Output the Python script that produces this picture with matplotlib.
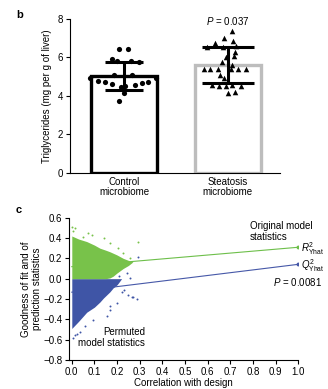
import matplotlib
matplotlib.use('Agg')
import matplotlib.pyplot as plt

plt.rcParams['font.family'] = ['Liberation Sans', 'DejaVu Sans']
plt.rcParams['mathtext.fontset'] = 'custom'
plt.rcParams['mathtext.rm'] = 'Liberation Sans'
plt.rcParams['mathtext.it'] = 'Liberation Sans:italic'
FS = 7

# ---- panel b data ----
groups = ['Control\nmicrobiome', 'Steatosis\nmicrobiome']
bar_means = [5.06, 5.6]
bar_sd = [0.73, 0.93]
cap_half = [13.5, 19]  # points
bar_edge = ['black', '#bdbdbd']
ctrl_vals = [6.46, 6.46, 5.92, 5.8, 5.8, 5.78, 5.1, 5.1, 4.95, 4.95,
             4.78, 4.71, 4.61, 4.57, 4.66, 4.74, 4.48, 4.53, 4.17, 3.74]
ctrl_dx = [-0.05, 0.04, -0.12, -0.07, 0.07, 0.14, -0.1, 0.08, -0.33, 0.31,
           -0.25, -0.18, -0.12, 0.11, 0.17, 0.23, -0.03, 0.01, 0.0, -0.05]
stea_vals = [7.38, 7.0, 6.75, 6.85, 6.55, 6.55, 6.6, 6.3, 6.0, 6.1, 5.75, 5.6,
             5.42, 5.42, 5.42, 5.42, 5.42, 5.42, 5.08, 4.92,
             4.55, 4.5, 4.52, 4.55, 4.5, 4.15, 4.2]
stea_dx = [0.04, -0.04, -0.12, 0.05, -0.2, -0.05, 0.08, 0.07, -0.02, 0.06, -0.06, 0.04,
           -0.23, -0.17, -0.1, 0.03, 0.1, 0.17, -0.08, -0.04,
           -0.15, -0.09, -0.02, 0.04, 0.13, 0.0, 0.07]

# ---- panel c data ----
green_x = [0, 0.03, 0.066, 0.1, 0.124, 0.15, 0.168, 0.183, 0.198, 0.227, 0.25, 0.27]
green_hi = [0.42, 0.39, 0.365, 0.33, 0.30, 0.28, 0.265, 0.25, 0.235, 0.20, 0.18, 0.165]
green_lo = [0, 0, 0, 0, 0, 0, 0.007, 0.025, 0.053, 0.1, 0.13, 0.165]
blue_x = [0, 0.03, 0.066, 0.1, 0.124, 0.14, 0.168, 0.183, 0.2, 0.22]
blue_hi = [0, 0, 0, 0, 0, 0, 0, 0, 0, 0]
blue_lo = [-0.49, -0.42, -0.33, -0.28, -0.23, -0.19, -0.13, -0.09, -0.06, 0.0]
green_sx = [0.0, 0.015, 0.073, 0.088, 0.14, 0.169, 0.206, 0.228, 0.257, 0.294, 0.005, 0.05]
green_sy = [0.51, 0.5, 0.45, 0.43, 0.40, 0.35, 0.30, 0.25, 0.2, 0.364, 0.47, 0.41]
blue_sx = [0.294, 0.243, 0.257, 0.25, 0.27, 0.29, 0.23, 0.2, 0.17, 0.265, 0.22,
           0.169, 0.154, 0.095, 0.059, 0.022, 0.035, 0.016, 0.005, 0.21, 0.19]
blue_sy = [0.21, 0.053, 0.004, -0.16, -0.18, -0.2, -0.11, -0.24, -0.27, -0.18, -0.13,
           -0.31, -0.37, -0.41, -0.47, -0.54, -0.52, -0.55, -0.58, 0.03, 0.08]
r2_line_x = [0.0, 1.0]
r2_line_y = [0.118, 0.309]
q2_line_y = [-0.133, 0.141]

fig = plt.figure(figsize=(3.28, 3.89), dpi=100)

# ---------------- b ----------------
ax = fig.add_axes([0.2134, 0.5553, 0.640, 0.3959])
for i in range(2):
    ax.bar(i, bar_means[i], width=0.64, color='white', edgecolor=bar_edge[i], linewidth=2.4, zorder=1)
ax.scatter([0 + d for d in ctrl_dx], ctrl_vals, s=14, color='black', marker='o', zorder=2, linewidths=0)
ax.scatter([1 + d for d in stea_dx], stea_vals, s=16, color='black', marker='^', zorder=2, linewidths=0)
for i in range(2):
    ax.errorbar(i, bar_means[i], yerr=bar_sd[i], color='black', elinewidth=2.2,
                capsize=cap_half[i], capthick=2.2, zorder=3, fmt='none')
ax.set_xlim(-0.52, 1.5)
ax.set_ylim(0, 8)
ax.set_yticks([0, 2, 4, 6, 8])
ax.set_xticks([0, 1])
ax.set_xticklabels(groups, fontsize=FS, linespacing=1.0)
ax.tick_params(axis='y', labelsize=FS, length=3, width=0.8, pad=2)
ax.tick_params(axis='x', length=0, pad=3)
for s in ['top', 'right']:
    ax.spines[s].set_visible(False)
for s in ['left', 'bottom']:
    ax.spines[s].set_linewidth(0.8)
ax.set_ylabel('Triglycerides (mg per g of liver)', fontsize=FS, labelpad=4)
ax.text(1, 7.9, '$P$ = 0.037', fontsize=FS, ha='center', va='center')
fig.text(0.06, 0.962, 'b', fontsize=8, fontweight='bold', ha='center', va='center')

# ---------------- c ----------------
ax2 = fig.add_axes([0.2113, 0.0746, 0.698, 0.3658])
ax2.plot(r2_line_x, r2_line_y, color='#6dbf4a', lw=0.8, zorder=1)
ax2.plot(r2_line_x, q2_line_y, color='#4658a8', lw=0.8, zorder=1)
ax2.plot(r2_line_x[1], r2_line_y[1], 'o', ms=1.8, color='#6dbf4a', zorder=1)
ax2.plot(r2_line_x[1], q2_line_y[1], 'o', ms=1.8, color='#4658a8', zorder=1)
ax2.fill_between(blue_x, blue_lo, blue_hi, color='#3f55a6', lw=0, zorder=2)
ax2.fill_between(green_x, green_lo, green_hi, color='#78c24a', lw=0, zorder=3)
ax2.scatter(blue_sx, blue_sy, s=2, color='#3f55a6', lw=0, zorder=2)
ax2.scatter(green_sx, green_sy, s=2, color='#78c24a', lw=0, zorder=3)
ax2.set_xlim(-0.011, 1.0)
ax2.set_ylim(-0.8, 0.6)
ax2.set_xticks([i / 10 for i in range(11)])
ax2.set_xticklabels(['%.1f' % (i / 10) for i in range(11)])
ax2.set_yticks([0.6, 0.4, 0.2, 0.0, -0.2, -0.4, -0.6, -0.8])
ax2.set_yticklabels(['0.6', '0.4', '0.2', '0.0', '\u22120.2', '\u22120.4', '\u22120.6', '\u22120.8'])
ax2.tick_params(labelsize=FS, length=3, width=0.8, pad=2)
for s in ['top', 'right']:
    ax2.spines[s].set_visible(False)
for s in ['left', 'bottom']:
    ax2.spines[s].set_linewidth(0.8)
ax2.set_xlabel('Correlation with design', fontsize=FS, labelpad=1)
ax2.set_ylabel('Goodness of fit and of\nprediction statistics', fontsize=FS, labelpad=1, linespacing=1.1)
ax2.text(0.786, 0.565, 'Original model\nstatistics', fontsize=FS, ha='left', va='top', linespacing=1.05)
ax2.text(1.012, 0.295, '$R^2_{\\mathrm{Yhat}}$', fontsize=FS, ha='left', va='center', clip_on=False)
ax2.text(1.012, 0.13, '$Q^2_{\\mathrm{Yhat}}$', fontsize=FS, ha='left', va='center', clip_on=False)
ax2.text(0.887, -0.036, '$P$ = 0.0081', fontsize=FS, ha='left', va='center', clip_on=False)
ax2.text(0.323, -0.48, 'Permuted\nmodel statistics', fontsize=FS, ha='right', va='top', linespacing=1.1)
fig.text(0.058, 0.46, 'c', fontsize=8, fontweight='bold', ha='center', va='center')

fig.savefig('out.png', dpi=100)
